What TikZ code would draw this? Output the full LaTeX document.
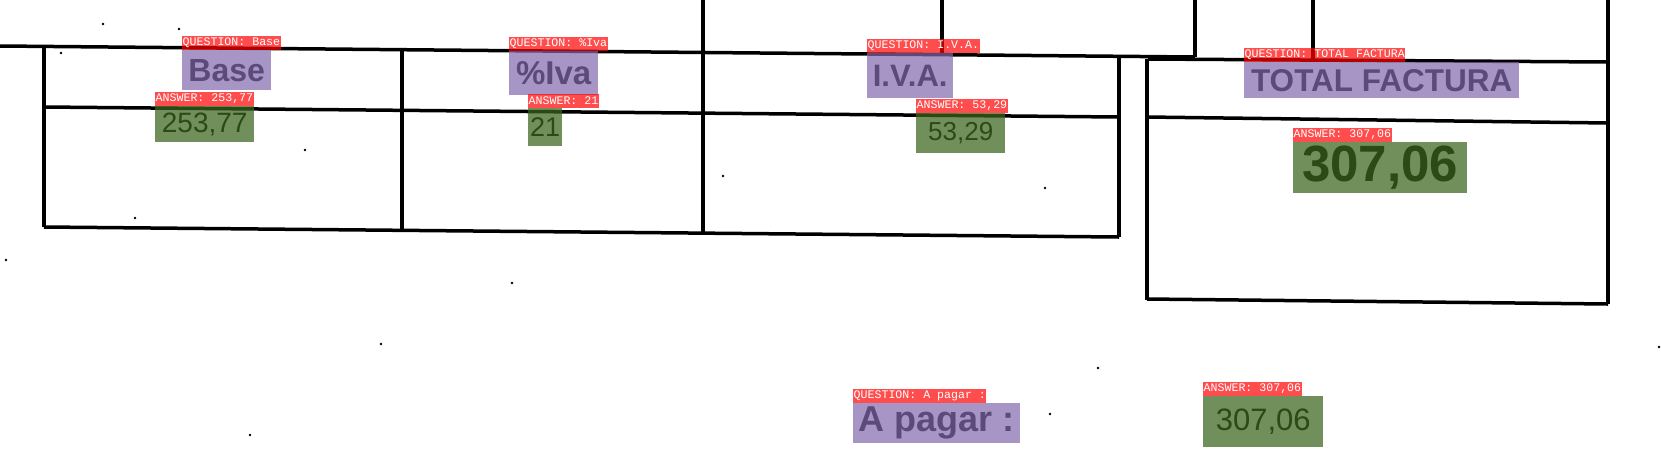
\documentclass[tikz,border=0pt]{standalone}
\usepackage{fontspec}
\setmainfont{Liberation Sans}
\newfontfamily\tagfont{Liberation Mono}
\usepackage{xcolor}
\usepackage{tikz}
\usetikzlibrary{positioning}

\definecolor{qfill}{RGB}{130,105,173}
\definecolor{qtext}{RGB}{92,74,122}
\definecolor{afill}{RGB}{59,101,30}
\definecolor{atext}{RGB}{43,74,22}
\definecolor{tagred}{RGB}{255,0,0}

\begin{document}
\begin{tikzpicture}[x=1pt, y=-1pt,
    rule/.style={line width=3.5pt},
    qbox/.style 2 args={anchor=north west, inner sep=0pt, minimum width=#1, minimum height=#2,
        fill=qfill, fill opacity=0.7, text opacity=1, text=qtext},
    abox/.style 2 args={anchor=north west, inner sep=0pt, minimum width=#1, minimum height=#2,
        fill=afill, fill opacity=0.73, text opacity=1, text=atext},
    fieldtag/.style={inner xsep=0.5pt, inner ysep=0pt, minimum height=14pt,
        fill=tagred, fill opacity=0.7, text opacity=1, text=white,
        font=\tagfont\fontsize{11.6}{12}\selectfont}]
    \useasboundingbox (0,0) rectangle (1661,475);

    % form lines
    \draw [rule] (0,46) -- (1195,57);
    \draw [rule] (1148,59) -- (1608,62);
    \draw [rule] (703,0) -- (703,232);
    \draw [rule] (942,0) -- (942,55);
    \draw [rule] (1195,0) -- (1195,57);
    \draw [rule] (1313,0) -- (1313,60);
    \draw [rule] (1608,0) -- (1608,304);

    \draw [rule] (44,46) -- (44,227);
    \draw [rule] (402,49) -- (402,230);
    \draw [rule] (1119,57) -- (1119,237);
    \draw [rule] (44,107) -- (1119,117);
    \draw [rule] (44,227) -- (1119,237);

    \draw [rule] (1147,59) -- (1147,300);
    \draw [rule] (1147,117) -- (1608,123);
    \draw [rule] (1147,299) -- (1608,304);

    % scan specks
    \foreach \p in {(103,24),(179,29),(61,53),(305,150),(135,218),(723,176),(1045,188),
                    (1098,368),(1050,414),(6,260),(512,283),(381,344),(250,435),(1659,347)}
        \fill \p circle (1.3pt);

    % questions and answers
    \node [qbox={89pt}{40pt}, font=\bfseries\fontsize{32}{32}\selectfont] (qBase) at (182,50) {Base};
    \node [abox={99pt}{36pt}, font=\fontsize{28}{28}\selectfont] (aBase) at (155,106) {253,77};
    \node [qbox={89pt}{44pt}, font=\bfseries\fontsize{33}{33}\selectfont] (qIva) at (509,51) {\%Iva};
    \node [abox={34pt}{38pt}, font=\fontsize{27}{27}\selectfont] (aIva) at (528,108) {21};
    \node [qbox={86pt}{45pt}, font=\bfseries\fontsize{31}{31}\selectfont] (qIVA) at (867,53) {I.V.A.};
    \node [abox={89pt}{40pt}, font=\fontsize{26}{26}\selectfont] (aIVA) at (916,113) {53,29};
    \node [qbox={275pt}{36pt}, font=\bfseries\fontsize{31.5}{31.5}\selectfont] (qTotal) at (1244,62) {TOTAL FACTURA};
    \node [abox={174pt}{51pt}, font=\bfseries\fontsize{51}{51}\selectfont] (aTotal) at (1293,142) {307,06};
    \node [qbox={167pt}{40pt}, font=\bfseries\fontsize{36}{36}\selectfont] (qPagar) at (853,403) {A pagar :};
    \node [abox={120pt}{51pt}, font=\fontsize{31}{31}\selectfont] (aPagar) at (1203,396) {307,06};

    % tags
    \node [fieldtag, above right=0pt of qBase.north west] (tqBase) {QUESTION: Base};
    \node [fieldtag, above right=0pt of aBase.north west] (taBase) {ANSWER: 253,77};
    \node [fieldtag, above right=0pt of qIva.north west] (tqIva) {QUESTION: \%Iva};
    \node [fieldtag, above right=0pt of aIva.north west] (taIva) {ANSWER: 21};
    \node [fieldtag, above right=0pt of qIVA.north west] (tqIVA) {QUESTION: I.V.A.};
    \node [fieldtag, above right=0pt of aIVA.north west] (taIVA) {ANSWER: 53,29};
    \node [fieldtag, above right=0pt of qTotal.north west] (tqTotal) {QUESTION: TOTAL FACTURA};
    \node [fieldtag, above right=0pt of aTotal.north west] (taTotal) {ANSWER: 307,06};
    \node [fieldtag, above right=0pt of qPagar.north west] (tqPagar) {QUESTION: A pagar :};
    \node [fieldtag, above right=0pt of aPagar.north west] (taPagar) {ANSWER: 307,06};
\end{tikzpicture}
\end{document}
